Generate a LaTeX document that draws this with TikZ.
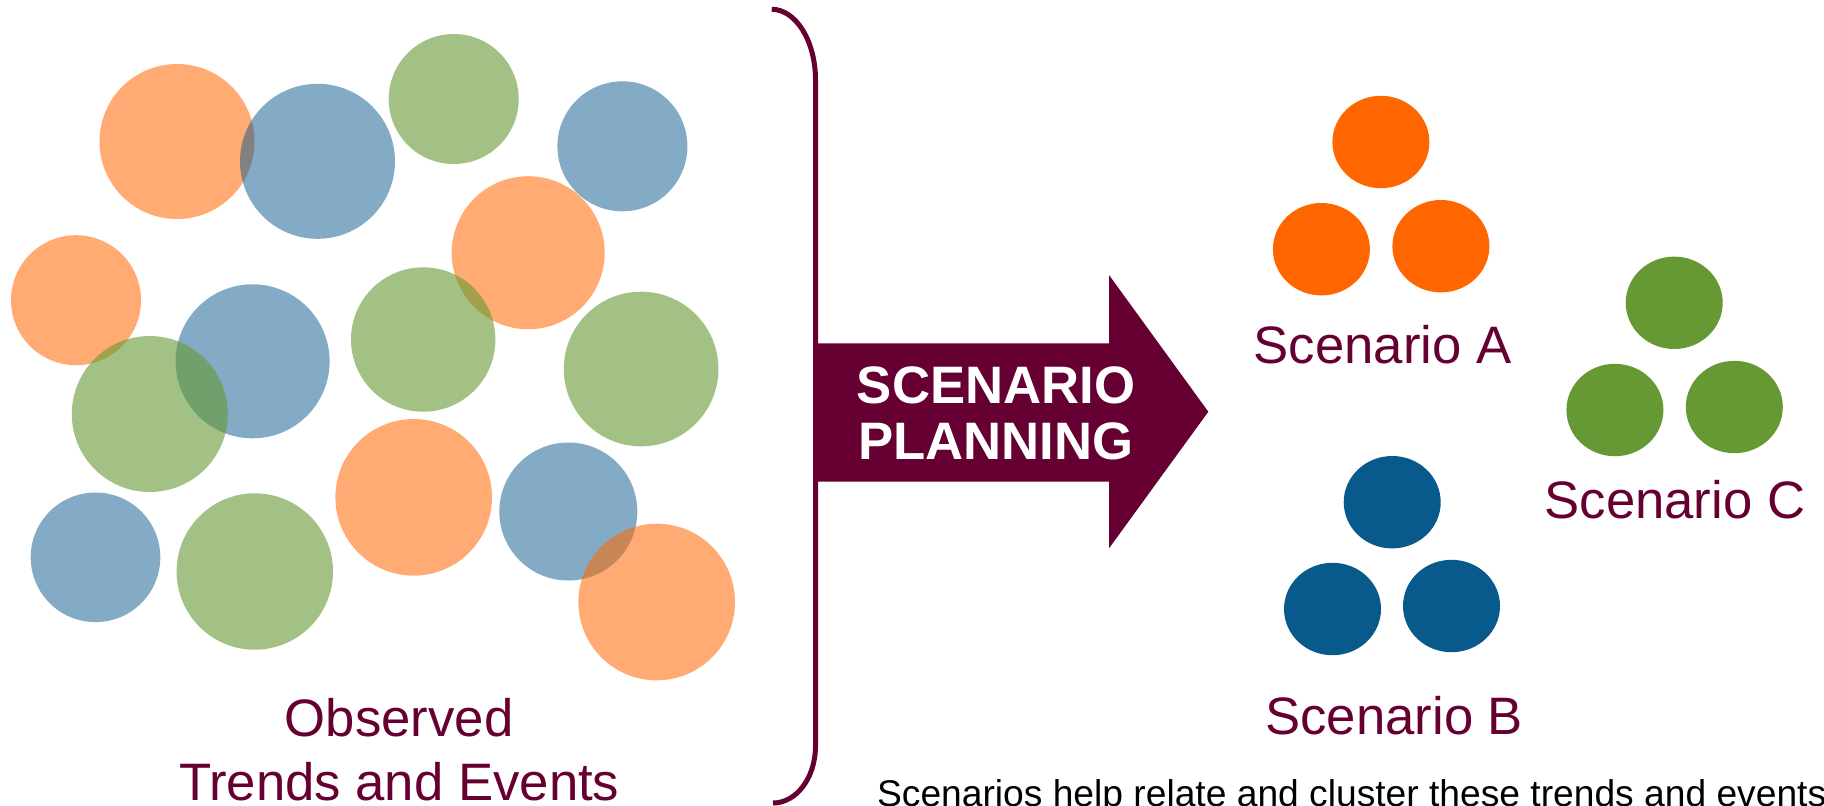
\documentclass[tikz,border=0pt]{standalone}
\usepackage{fontspec}
\setmainfont{Liberation Sans}
\definecolor{maroon}{HTML}{660033}
\definecolor{sorange}{HTML}{FF6600}
\definecolor{sblue}{HTML}{08598C}
\definecolor{sgreen}{HTML}{669933}
\begin{document}
\begin{tikzpicture}[x=0.5pt,y=-0.5pt,
  paleorange/.style={fill=sorange,fill opacity=0.55},
  paleblue/.style={fill=sblue,fill opacity=0.5},
  palegreen/.style={fill=sgreen,fill opacity=0.6},
  bracketline/.style={draw=maroon,line width=2.5pt},
  label/.style={text=maroon,font=\fontsize{26.35}{31.65}\selectfont,inner sep=0pt,anchor=base},
  arrowtext/.style={text=white,font=\fontsize{26.35}{28}\selectfont\bfseries,inner sep=0pt,align=center,anchor=base},
  note/.style={text=black,font=\fontsize{18.6}{22}\selectfont,inner sep=0pt,anchor=base west}]
\useasboundingbox (0,0) rectangle (1824,805);
\fill[white] (0,0) rectangle (1824,805);
% observed trends and events (pale circles)
\fill[paleorange] (177,141.5) circle (77.5);
\fill[paleorange] (76,300.2) circle (65);
\fill[paleorange] (528.2,252.7) circle (76.5);
\fill[paleorange] (413.7,497.3) circle (78.3);
\fill[paleblue] (317.5,161.3) circle (77.5);
\fill[paleblue] (622.4,146.3) circle (65);
\fill[paleblue] (252.6,361.3) circle (77);
\fill[paleblue] (95.5,557.3) circle (64.8);
\fill[paleblue] (568.3,511.5) circle (69);
\fill[palegreen] (453.7,99) circle (65);
\fill[palegreen] (423.2,339.5) circle (72.2);
\fill[palegreen] (641.1,369) circle (77.3);
\fill[palegreen] (149.8,414) circle (78);
\fill[palegreen] (254.8,571.5) circle (78.2);
\fill[paleorange] (656.7,602) circle (78.3);
\node[label] (obs1) at (399.2,736.7) {Observed};
\node[label] (obs2) at (399.2,800) {Trends and Events};
% bracket
\draw[bracketline] (771.7,9.3) .. controls (795.7,9.3) and (815.5,40.8) .. (815.5,80)
  -- (815.5,746) .. controls (815.5,777.5) and (796.5,803) .. (773,803);
% arrow
\fill[maroon] (813,343.3) -- (1109,343.3) -- (1109,275) -- (1208.3,411.7)
  -- (1109,548.3) -- (1109,481.7) -- (813,481.7) -- cycle;
\node[arrowtext] (sp1) at (996,403) {SCENARIO};
\node[arrowtext] (sp2) at (996,459) {PLANNING};
% scenario A
\fill[sorange] (1380.9,142) ellipse (48.5 and 46.2);
\fill[sorange] (1321.4,249.2) ellipse (48.5 and 46.2);
\fill[sorange] (1440.9,246.2) ellipse (48.5 and 46.2);
\node[label] (sa) at (1382.7,363.3) {Scenario A};
% scenario C
\fill[sgreen] (1674.2,302.8) ellipse (48.5 and 46.2);
\fill[sgreen] (1614.9,410) ellipse (48.5 and 46.2);
\fill[sgreen] (1734.3,407) ellipse (48.5 and 46.2);
\node[label] (sc) at (1674.9,518.3) {Scenario C};
% scenario B
\fill[sblue] (1392.2,502.2) ellipse (48.5 and 46.2);
\fill[sblue] (1332.5,609) ellipse (48.5 and 46.2);
\fill[sblue] (1451.5,606) ellipse (48.5 and 46.2);
\node[label] (sb) at (1394.3,734) {Scenario B};
% note
\node[note] (nt) at (876.7,806.6) {Scenarios help relate and cluster these trends and events};
\end{tikzpicture}
\end{document}
